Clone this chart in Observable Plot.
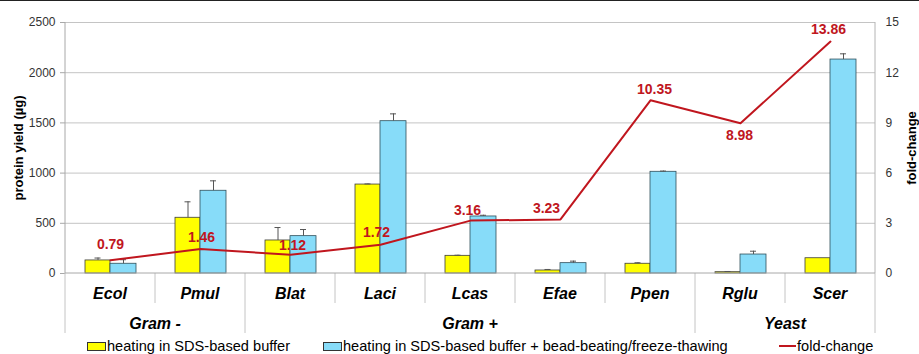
<!DOCTYPE html>
<html><head><meta charset="utf-8">
<script src="https://cdn.jsdelivr.net/npm/d3@7"></script>
<script src="https://cdn.jsdelivr.net/npm/@observablehq/plot@0.6"></script>
<style>
body{margin:0;background:#fff;font-family:"Liberation Sans",Arial,sans-serif;}
#wrap{position:relative;width:919px;height:354px;overflow:hidden;background:#fff}
#topline{position:absolute;left:0;top:0;width:919px;height:1px;background:#222}
#legend{position:absolute;left:0;top:338px;width:919px;height:16px;font-size:14.6px;color:#000}
.item{position:absolute;top:0;display:flex;align-items:center;white-space:nowrap;line-height:16px;height:16px}
.sw{width:17px;height:7px;border:1px solid #333;margin-right:1px}
.ln{width:17px;height:2px;background:#C0161E;margin-right:1px}
</style></head><body>
<div id="wrap"><div id="chart"></div><div id="legend"></div><div id="topline"></div></div>
<script>
const categories = ["Ecol","Pmul","Blat","Laci","Lcas","Efae","Ppen","Rglu","Scer"];
const groupNames = ["Gram -","Gram +","Yeast"];
const groupMembers = [["Ecol","Pmul"],["Blat","Laci","Lcas","Efae","Ppen"],["Rglu","Scer"]];
const sdsValues  = [130, 555, 329, 886, 176, 30, 97, 13, 152];
const sdsErrors  = [24, 159, 129, 6, 6, 10, 10, 7, 0];
const beadValues = [97, 824, 372, 1517, 568, 103, 1013, 189, 2131];
const beadErrors = [40, 99, 66, 73, 12, 20, 7, 33, 57];
const foldChange = [0.79, 1.46, 1.12, 1.72, 3.16, 3.23, 10.35, 8.98, 13.86];
const leftTicks  = [0, 500, 1000, 1500, 2000, 2500];
const rightTicks = [0, 3, 6, 9, 12, 15];
const seriesNames = ["heating in SDS-based buffer","heating in SDS-based buffer + bead-beating/freeze-thawing","fold-change"];
const yLabelLeft = "protein yield (µg)";
const yLabelRight = "fold-change";

// label nudges (pixels) for the fold-change value labels, layout only
const labelNudge = [[0,-16],[1,-12],[2,-9],[-4,-12],[-3,-10],[-14,-11],[4,-11],[-1,12],[-2,-12]];

const yMax = 2500, fcMax = 15;
const toLeft = v => v * yMax / fcMax;

const rows = categories.map((c, i) => ({
  cat: c, sds: sdsValues[i], sdsErr: sdsErrors[i], bead: beadValues[i], beadErr: beadErrors[i],
  fc: foldChange[i]
}));

const YELLOW = "#FFFF00", BLUE = "#87DCF9", RED = "#C0161E", GRID = "#c4c4c4";

function tableMark(index, scales, values, dimensions) {
  const x = scales.x, y = scales.y;
  const bw = x.bandwidth();
  const y0 = y(0);
  const g = d3.create("svg:g");
  const groupEdges = new Set();
  let acc = 0;
  groupEdges.add(0);
  groupMembers.forEach(m => { acc += m.length; groupEdges.add(acc); });
  for (let i = 0; i <= categories.length; i++) {
    const xp = (i < categories.length ? x(categories[i]) : x(categories[i-1]) + bw);
    const long = groupEdges.has(i);
    g.append("line").attr("x1", xp).attr("x2", xp).attr("y1", y0).attr("y2", y0 + (long ? 60 : 30))
      .attr("stroke", GRID);
  }
  const xl = x(categories[0]), xr = x(categories[categories.length-1]) + bw;
  g.append("line").attr("x1", xl).attr("x2", xl).attr("y1", y(yMax)).attr("y2", y0).attr("stroke", "#a8a8a8");
  g.append("line").attr("x1", xr).attr("x2", xr).attr("y1", y(yMax)).attr("y2", y0).attr("stroke", "#b4b4b4");
  g.append("line").attr("x1", xl).attr("x2", xr).attr("y1", y0).attr("y2", y0).attr("stroke", "#a8a8a8");
  categories.forEach(c => {
    g.append("text").attr("x", x(c) + bw/2).attr("y", y0 + 20).attr("text-anchor","middle")
      .attr("dominant-baseline","central").attr("font-size", 16).attr("font-weight","bold")
      .attr("font-style","italic").attr("fill","#000").text(c);
  });
  groupNames.forEach((name, gi) => {
    const m = groupMembers[gi];
    const a = x(m[0]), b = x(m[m.length-1]) + bw;
    g.append("text").attr("x", (a+b)/2).attr("y", y0 + 50).attr("text-anchor","middle")
      .attr("dominant-baseline","central").attr("font-size", 16).attr("font-weight","bold")
      .attr("font-style","italic").attr("fill","#000").text(name);
  });
  return g.node();
}

const labelStyle = {fill: RED, fontWeight: "bold", fontSize: 14, text: d => d.fc.toFixed(2), x: "cat", y: d => toLeft(d.fc)};

const chart = Plot.plot({
  width: 919, height: 338,
  marginLeft: 65, marginRight: 44, marginTop: 22, marginBottom: 65,
  style: {fontFamily: "Liberation Sans, Arial, sans-serif", fontSize: "12px", color: "#333", background: "#fff"},
  x: {domain: categories, padding: 0, axis: null},
  y: {domain: [0, yMax], axis: null},
  marks: [
    Plot.gridY(leftTicks.slice(1), {stroke: GRID, strokeOpacity: 1}),
    Plot.axisY(leftTicks, {anchor: "left", tickSize: 5, tickPadding: 5, label: null, stroke: "#a8a8a8", fontSize: 12,
      tickFormat: d => String(d)}),
    Plot.axisY(rightTicks.map(toLeft), {anchor: "right", tickSize: 0, tickPadding: 10, label: null, fontSize: 12,
      tickFormat: d => String(Math.round(d * fcMax / yMax))}),
    Plot.barY(rows, {x: "cat", y: "sds", fill: YELLOW, stroke: "#3c3c3c", strokeWidth: 0.8, insetLeft: 20, insetRight: 45}),
    Plot.barY(rows, {x: "cat", y: "bead", fill: BLUE, stroke: "#2f4f5a", strokeWidth: 0.8, insetLeft: 45, insetRight: 19}),
    Plot.ruleX(rows.filter(d => d.sdsErr > 0), {x: "cat", y1: "sds", y2: d => d.sds + d.sdsErr, dx: -12.5, stroke: "#555"}),
    Plot.tickY(rows.filter(d => d.sdsErr > 0), {x: "cat", y: d => d.sds + d.sdsErr, insetLeft: 29.5, insetRight: 54.5, stroke: "#555"}),
    Plot.ruleX(rows.filter(d => d.beadErr > 0), {x: "cat", y1: "bead", y2: d => d.bead + d.beadErr, dx: 13, stroke: "#555"}),
    Plot.tickY(rows.filter(d => d.beadErr > 0), {x: "cat", y: d => d.bead + d.beadErr, insetLeft: 55, insetRight: 29, stroke: "#555"}),
    tableMark,
    Plot.line(rows, {x: "cat", y: d => toLeft(d.fc), stroke: RED, strokeWidth: 2}),
    ...rows.map((d, i) => Plot.text([d], {...labelStyle, dx: labelNudge[i][0], dy: labelNudge[i][1]})),
    Plot.text([yLabelLeft], {frameAnchor: "left", rotate: -90, dx: -47, textAnchor: "middle", text: d => d, fontWeight: "bold", fontSize: 13, fill: "#000"}),
    Plot.text([yLabelRight], {frameAnchor: "right", rotate: -90, dx: 36, textAnchor: "middle", text: d => d, fontWeight: "bold", fontSize: 13, fill: "#000"})
  ]
});
document.getElementById("chart").appendChild(chart);

const legend = document.getElementById("legend");
const lefts = [87, 323, 779];
const swatches = [["sw", YELLOW], ["sw", BLUE], ["ln", RED]];
seriesNames.forEach((name, i) => {
  const it = document.createElement("div");
  it.className = "item";
  it.style.left = lefts[i] + "px";
  const s = document.createElement("span");
  s.className = swatches[i][0];
  s.style.background = swatches[i][1];
  it.appendChild(s);
  const t = document.createElement("span");
  t.textContent = name;
  it.appendChild(t);
  legend.appendChild(it);
});
</script>
</body></html>
